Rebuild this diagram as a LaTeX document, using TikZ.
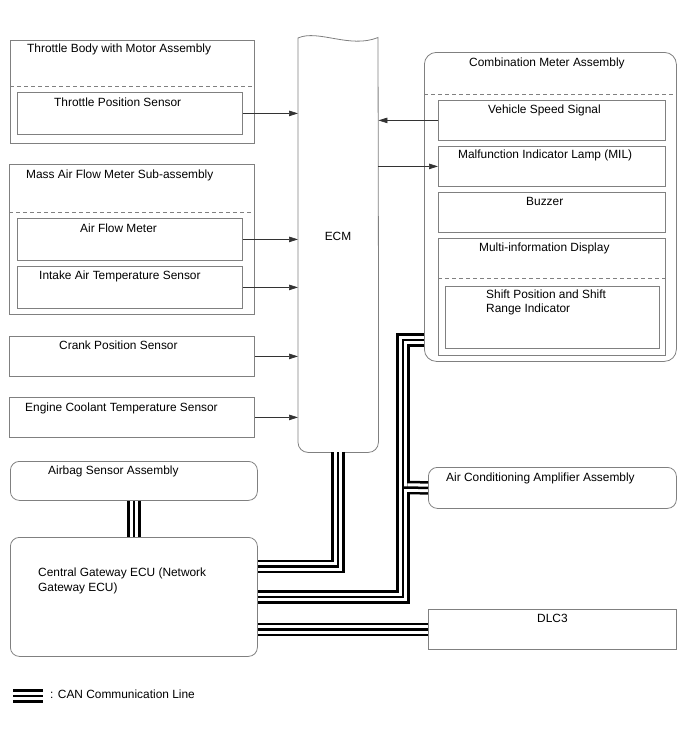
\documentclass[tikz,border=0pt]{standalone}
\usepackage{fontspec}
\setmainfont{Liberation Sans}
\usetikzlibrary{arrows.meta,calc}
\definecolor{boxgray}{RGB}{128,128,128}
\begin{document}
\begin{tikzpicture}[x=1pt,y=-1pt,
  box/.style={draw=boxgray, line width=0.8pt, inner sep=0pt, anchor=north west},
  rbox/.style={box, rounded corners=9pt},
  lbl/.style={anchor=base west, inner sep=0pt, font=\fontsize{11.9}{14}\selectfont},
  divider/.style={draw=boxgray, line width=0.8pt, dash pattern=on 4pt off 3pt},
  sig/.style={draw=black!80, line width=0.7pt, -{Triangle[length=9pt,width=5.5pt]}},
  can/.style={draw=black, line width=13.5pt,
    postaction={draw=white, line width=8.5pt},
    postaction={draw=black, line width=2.5pt}}]
\useasboundingbox (0,0) rectangle (688,755);

% ---------- left column ----------
\node[box, minimum width=244pt, minimum height=103pt] (tb) at (10,40) {};
\draw[divider] (10,86) -- (254,86);
\node[box, minimum width=225pt, minimum height=42pt] (tps) at (17,92) {};
\node[box, minimum width=245pt, minimum height=150pt] (maf) at (9,164) {};
\draw[divider] (9,212) -- (254,212);
\node[box, minimum width=225pt, minimum height=42pt] (afm) at (17,218) {};
\node[box, minimum width=225pt, minimum height=42pt] (iat) at (17,266) {};
\node[box, minimum width=245pt, minimum height=40pt] (ckp) at (9,336) {};
\node[box, minimum width=245pt, minimum height=40pt] (ect) at (9,397) {};
\node[rbox, minimum width=247pt, minimum height=39pt] (ab) at (10,461) {};
\node[rbox, minimum width=247pt, minimum height=119pt] (cgw) at (10,537) {};

% ---------- ECM ----------
\node[inner sep=0pt, anchor=north west, minimum width=80pt, minimum height=416pt] (ecm) at (298,36) {};
\draw[draw=boxgray, line width=0.8pt] (ecm.west) [rounded corners=10pt] -- (ecm.south west)
  -- (ecm.south east) -- (ecm.east) [sharp corners] -- (378,37.5)
  .. controls (350,49) and (318,29) .. (298,38) -- cycle;

% ---------- right column ----------
\node[box, rounded corners=12pt, minimum width=252pt, minimum height=309pt] (cmb) at (424,52) {};
\draw[divider] (424,94) -- (676,94);
\node[box, minimum width=227pt, minimum height=40pt] (vss) at (438,100) {};
\node[box, minimum width=227pt, minimum height=40pt] (mil) at (438,146) {};
\node[box, minimum width=227pt, minimum height=40pt] (buz) at (438,192) {};
\node[box, minimum width=227pt, minimum height=117pt] (mid) at (438,238) {};
\draw[divider] (438,278) -- (665,278);
\node[box, minimum width=214pt, minimum height=62pt] (spi) at (445,286) {};
\node[rbox, minimum width=248pt, minimum height=41pt] (ac) at (428,467) {};
\node[box, minimum width=248pt, minimum height=40pt] (dlc) at (428,609) {};

% ---------- labels ----------
\node[lbl] (l1) at (27,52) {Throttle Body with Motor Assembly};
\node[lbl] (l2) at (54,106) {Throttle Position Sensor};
\node[lbl] (l3) at (26,178.5) {Mass Air Flow Meter Sub-assembly};
\node[lbl] (l4) at (80,232.5) {Air Flow Meter};
\node[lbl] (l5) at (39,279.5) {Intake Air Temperature Sensor};
\node[lbl] (l6) at (59,349.5) {Crank Position Sensor};
\node[lbl] (l7) at (25,411.5) {Engine Coolant Temperature Sensor};
\node[lbl, anchor=base] (l8) at (338,240) {ECM};
\node[lbl] (l9) at (469,66.5) {Combination Meter Assembly};
\node[lbl] (l10) at (488,113.5) {Vehicle Speed Signal};
\node[lbl] (l11) at (458,158.5) {Malfunction Indicator Lamp (MIL)};
\node[lbl] (l12) at (526,205) {Buzzer};
\node[lbl] (l13) at (479,251.5) {Multi-information Display};
\node[lbl] (l14a) at (486,298) {Shift Position and Shift};
\node[lbl] (l14b) at (486,312.5) {Range Indicator};
\node[lbl] (l15) at (446,481) {Air Conditioning Amplifier Assembly};
\node[lbl] (l16) at (537,622) {DLC3};
\node[lbl] (l17) at (48,474) {Airbag Sensor Assembly};
\node[lbl] (l18a) at (38,576) {Central Gateway ECU (Network};
\node[lbl] (l18b) at (38,591) {Gateway ECU)};
\node[lbl] (l19) at (50,698) {: CAN Communication Line};

% ---------- signal arrows ----------
\draw[sig] (tps.east) -- (tps.east -| ecm.west);
\draw[sig] (afm.east) -- (afm.east -| ecm.west);
\draw[sig] (iat.east) -- (iat.east -| ecm.west);
\draw[sig] (ckp.east) -- (ckp.east -| ecm.west);
\draw[sig] (ect.east) -- (ect.east -| ecm.west);
\draw[sig] (vss.west) -- (vss.west -| ecm.east);
\draw[sig] (mil.west -| ecm.east) -- (mil.west);

% ---------- CAN lines ----------
\coordinate (cmw) at (424,340);
\coordinate (jx) at (403,340);
\draw[can] (ecm.south) |- ($(cgw.east)+(0,-30.5)$);
\draw[can] (cmw) -- (jx) -- (jx |- cgw.east) -- (cgw.east);
\coordinate (br1) at (407.25,487.5);
\coordinate (br0) at (403,487.5);
\draw[draw=black, line width=13.5pt] (br1) -- (ac.west);
\draw[draw=white, line width=8.5pt] (br1) -- (ac.west);
\draw[draw=black, line width=2.5pt] (br0) -- (ac.west);
\draw[can] (cgw.east |- dlc.west) -- (dlc.west);
\draw[can] (ab.south) -- (ab.south |- cgw.north);
\coordinate (lg1) at (13,696);
\coordinate (lg2) at (43,696);
\draw[can] (lg1) -- (lg2);
\end{tikzpicture}
\end{document}
